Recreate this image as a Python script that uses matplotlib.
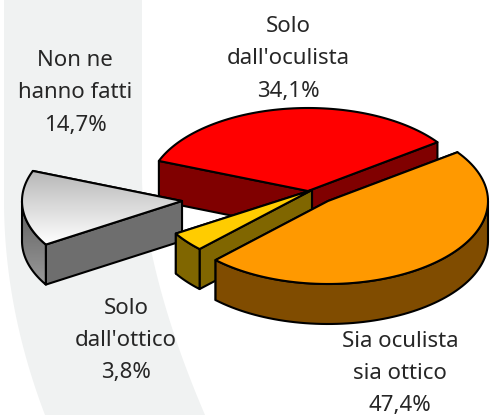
import numpy as np
import matplotlib
matplotlib.use("Agg")
import matplotlib.pyplot as plt
from matplotlib.patches import Polygon

categories = ["Solo\ndall'oculista", "Non ne\nhanno fatti", "Solo\ndall'ottico", "Sia oculista\nsia ottico"]
values = [34.1, 14.7, 3.8, 47.4]
value_labels = ["34,1%", "14,7%", "3,8%", "47,4%"]

top_colors = ["#ff0000", "#dddddd", "#ffcc00", "#ff9900"]
side_colors = ["#800000", "#6e6e6e", "#806600", "#804c00"]
centers = [(308, 191), (182, 201), (312, 190), (328, 201)]
label_pos = [(288, 59), (75, 93), (126, 340), (400, 373)]
draw_order = [0, 1, 2, 3]

A, B, DEPTH = 160, 83, 40
START = 36.0

fig = plt.figure(figsize=(4.9, 4.15), dpi=100)
ax = fig.add_axes([0, 0, 1, 1])
ax.set_xlim(0, 490)
ax.set_ylim(415, 0)
ax.axis("off")

# background swoosh
yy = np.linspace(0, 415, 80)
right = 142 + 63 * np.clip((yy - 180) / 235, 0, 1) ** 1.6
left = 4 + 41 * np.clip((yy - 200) / 215, 0, 1) ** 2
ax.fill_betweenx(yy, left, right, color="#f0f2f2", lw=0, zorder=0)

spans = np.array(values) / sum(values) * 360
starts = START + np.concatenate([[0], np.cumsum(spans)[:-1]])


def arc(c, t0, t1):
    t = np.radians(np.linspace(t0, t1, 90))
    return np.column_stack([c[0] + A * np.cos(t), c[1] - B * np.sin(t)])


def poly(pts, fc, z):
    ax.add_patch(Polygon(pts, closed=True, fc=fc, ec="black", lw=1.5, joinstyle="round", zorder=z))


def down(pts):
    return pts + np.array([0, DEPTH])


def gradient(patch, extent, c0, c1, z):
    ramp = np.linspace(0, 1, 64)[:, None, None]
    rgb = (1 - ramp) * np.array(matplotlib.colors.to_rgb(c0)) + ramp * np.array(matplotlib.colors.to_rgb(c1))
    im = ax.imshow(rgb, extent=extent, aspect="auto", zorder=z, interpolation="bilinear")
    im.set_clip_path(patch)


for n, i in enumerate(draw_order):
    z = 2 + n
    c = np.array(centers[i], float)
    t0, t1 = starts[i], starts[i] + spans[i]
    rim = arc(c, t0, t1)
    top = np.vstack([c, rim])
    # cut faces
    for end in (rim[0], rim[-1]):
        quad = np.array([c, end, end + [0, DEPTH], c + [0, DEPTH]])
        poly(quad, side_colors[i], z)
    # outer wall: only the part of the rim that faces the viewer
    s = np.sin(np.radians(np.linspace(t0, t1, 90)))
    front = rim[s < 0]
    if len(front) > 1:
        wall = np.vstack([front, down(front)[::-1]])
        if i == 1:
            p = Polygon(wall, closed=True, fc="none", ec="none", zorder=z)
            ax.add_patch(p)
            ymin, ymax = wall[:, 1].min(), wall[:, 1].max()
            gradient(p, (wall[:, 0].min(), wall[:, 0].max(), ymax, ymin), "#5e5e5e", "#9a9a9a", z)
            poly(wall, "none", z)
        else:
            poly(wall, side_colors[i], z)
    # top face
    if i == 1:
        p = Polygon(top, closed=True, fc="none", ec="none", zorder=z)
        ax.add_patch(p)
        ymin, ymax = top[:, 1].min(), top[:, 1].max()
        gradient(p, (top[:, 0].min(), top[:, 0].max(), ymax, ymin), "#b8b8b8", "#ffffff", z)
        poly(top, "none", z)
    else:
        poly(top, top_colors[i], z)

ax.set_xlim(0, 490)
ax.set_ylim(415, 0)

for cat, val, (x, y) in zip(categories, value_labels, label_pos):
    a, b = cat.split("\n")
    for txt, yy_ in ((a, y - 32), (b, y), (val, y + 32)):
        ax.text(x, yy_, txt, ha="center", va="center", fontsize=16,
                family="Noto Sans", color="#262626", zorder=20)

fig.savefig("out.png", dpi=100)
